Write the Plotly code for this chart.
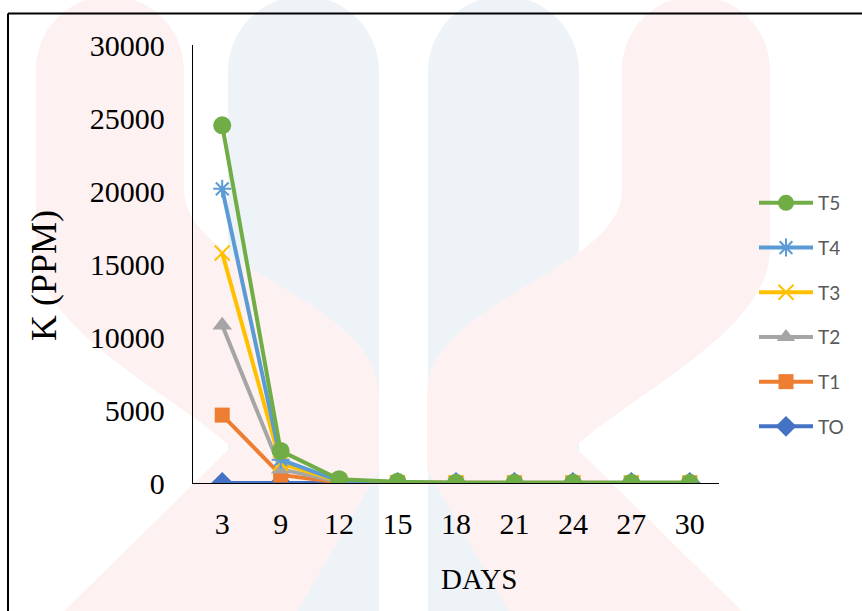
import plotly.graph_objects as go

# ---- data -------------------------------------------------------------
days = ["3", "9", "12", "15", "18", "21", "24", "27", "30"]
series_names = ["TO", "T1", "T2", "T3", "T4", "T5"]
t0 = [0, 0, 0, 0, 0, 0, 0, 0, 0]
t1 = [4650, 550, 40, 10, 5, 5, 5, 5, 5]
t2 = [10800, 950, 80, 15, 8, 8, 8, 8, 8]
t3 = [15750, 1350, 120, 20, 10, 10, 10, 10, 10]
t4 = [20150, 1600, 150, 25, 12, 12, 12, 12, 12]
t5 = [24500, 2200, 260, 80, 15, 15, 15, 15, 15]
series_values = [t0, t1, t2, t3, t4, t5]
y_ticks = [0, 5000, 10000, 15000, 20000, 25000, 30000]
y_tick_labels = ["0", "5000", "10000", "15000", "20000", "25000", "30000"]

# ---- styling ------------------------------------------------------------
colors = ["#4472C4", "#ED7D31", "#A5A5A5", "#FFC000", "#5B9BD5", "#70AD47"]
symbols = ["diamond", "square", "triangle-up", "x-thin-open", "asterisk-open", "circle"]
msizes = [17, 15, 17, 15, 15, 18]

W, H = 862, 611


def X(px):
    return px / W


def Y(py):
    return 1 - py / H


def path(cmds):
    out = []
    for c in cmds:
        if c == "Z":
            out.append("Z")
            continue
        op, pts = c[0], c[1:]
        out.append(op + " ".join(f"{X(x):.5f},{Y(y):.5f}" for x, y in pts))
    return " ".join(out)


K = 0.5523


def pill(x0, x1, top, bottom):
    r = (x1 - x0) / 2
    cx, cy = x0 + r, top + r
    return [
        ("M", (x0, bottom)),
        ("L", (x0, cy)),
        ("C", (x0, cy - K * r), (cx - K * r, cy - r), (cx, cy - r)),
        ("C", (cx + K * r, cy - r), (x1, cy - K * r), (x1, cy)),
        ("L", (x1, bottom)),
        "Z",
    ]


def bent_pill(x0, x1, top):
    r = (x1 - x0) / 2
    cx, cy = x0 + r, top + r
    return [
        ("M", (x0, cy)),
        ("C", (x0, cy - K * r), (cx - K * r, cy - r), (cx, cy - r)),
        ("C", (cx + K * r, cy - r), (x1, cy - K * r), (x1, cy)),
        ("L", (x1, 190)),
        ("C", (x1, 270), (379, 300), (379, 395)),
        ("L", (379, 470)),
        ("L", (292, 620)),
        ("L", (55, 620)),
        ("L", (231, 447)),
        ("C", (175, 395), (x0, 330), (x0, 250)),
        "Z",
    ]


def mirror(cmds, axis=806):
    res = []
    for c in cmds:
        if c == "Z":
            res.append(c)
        else:
            res.append((c[0],) + tuple((axis - x, y) for x, y in c[1:]))
    return res


pink = "#fdf1f1"
blue = "#eef3f8"
shapes = []
for cmds, col in [
    (pill(228, 379, -4, 620), blue),
    (pill(428, 579, -4, 620), blue),
    (bent_pill(36, 184, -4), pink),
    (mirror(bent_pill(36, 184, -4)), pink),
]:
    shapes.append(dict(type="path", path=path(cmds), xref="paper", yref="paper",
                       fillcolor=col, line=dict(width=0), layer="below"))

# frame around the chart
shapes.append(dict(type="line", xref="paper", yref="paper", x0=X(8), x1=X(870),
                   y0=Y(13.5), y1=Y(13.5), line=dict(color="#000", width=2)))
shapes.append(dict(type="line", xref="paper", yref="paper", x0=X(8), x1=X(8),
                   y0=Y(13.5), y1=Y(620), line=dict(color="#000", width=2)))

fig = go.Figure()
n = len(series_names)
for i, (name, vals, col, sym, ms) in enumerate(
        zip(series_names, series_values, colors, symbols, msizes)):
    open_sym = sym.endswith("open")
    fig.add_trace(go.Scatter(
        x=days, y=vals, name=name, mode="lines+markers", legendgroup=name,
        legendrank=n - i,
        line=dict(color=col, width=4),
        marker=dict(symbol=sym, size=ms, color=col,
                    line=dict(color=col, width=2 if open_sym else 0)),
    ))

serif = "Liberation Serif"
fig.update_layout(
    width=W, height=H, autosize=False,
    margin=dict(l=0, r=0, t=0, b=0),
    paper_bgcolor="white", plot_bgcolor="rgba(0,0,0,0)",
    shapes=shapes,
    showlegend=True,
    legend=dict(x=X(754), y=Y(184), xanchor="left", yanchor="top",
                traceorder="grouped", tracegroupgap=17, itemwidth=54,
                font=dict(family="Lato", size=19, color="#595959"),
                bgcolor="rgba(0,0,0,0)"),
    xaxis=dict(type="category", domain=[X(193), X(719)], range=[-0.5, 8.5],
               showline=True, linecolor="#000", linewidth=1.3, ticks="",
               showgrid=False, zeroline=False, automargin=False,
               tickfont=dict(family=serif, size=30, color="#000"),
               ticklabelstandoff=14),
    yaxis=dict(domain=[Y(483), Y(45)], range=[0, 30000],
               tickmode="array", tickvals=y_ticks, ticktext=y_tick_labels,
               showline=True, linecolor="#000", linewidth=1.3, ticks="",
               showgrid=False, zeroline=False, automargin=False,
               tickfont=dict(family=serif, size=30, color="#000"),
               ticklabelstandoff=21),
    annotations=[
        dict(text="K (PPM)", xref="paper", yref="paper", x=X(44), y=Y(276),
             textangle=-90, showarrow=False, xanchor="center", yanchor="middle",
             font=dict(family=serif, size=36, color="#000")),
        dict(text="DAYS", xref="paper", yref="paper", x=X(479), y=Y(579),
             showarrow=False, xanchor="center", yanchor="middle",
             font=dict(family=serif, size=29, color="#000")),
    ],
)

fig.write_html("out.html")
